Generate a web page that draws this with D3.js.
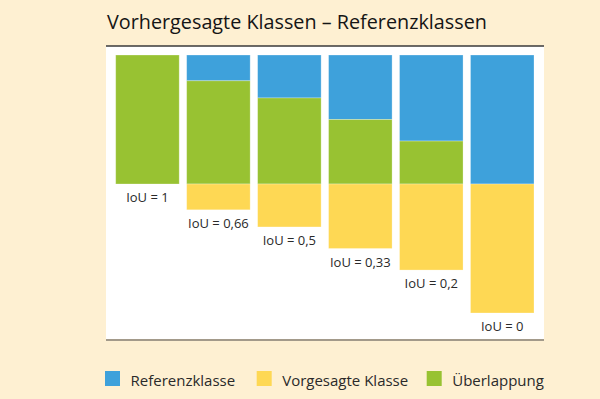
<!DOCTYPE html>
<html>
<head>
<meta charset="utf-8">
<script src="https://cdn.jsdelivr.net/npm/d3@7"></script>
<style>
  html, body { margin: 0; padding: 0; background: #fef0d2; }
  svg { display: block; font-family: "Open Sans", "Noto Sans", sans-serif; }
</style>
</head>
<body>
<div id="app"></div>
<script>
// data (class size = 1)
var labels = ['IoU = 1', 'IoU = 0,66', 'IoU = 0,5', 'IoU = 0,33', 'IoU = 0,2', 'IoU = 0'];
var referenz = [0, 0.2, 0.333, 0.5, 0.667, 1];      // blue, only in reference
var ueberlappung = [1, 0.8, 0.667, 0.5, 0.333, 0];  // green, overlap
var vorhergesagt = [0, 0.2, 0.333, 0.5, 0.667, 1];  // yellow, only predicted

var series = [
    {key: 'referenz', name: 'Referenzklasse', color: '#3ea1db'},
    {key: 'vorhergesagt', name: 'Vorgesagte Klasse', color: '#fed854'},
    {key: 'ueberlappung', name: 'Überlappung', color: '#98c232'}
];
var color = {};
series.forEach(function (s) { color[s.key] = s.color; });

var rows = labels.map(function (l, i) {
    return {label: l, referenz: referenz[i], ueberlappung: ueberlappung[i], vorhergesagt: vorhergesagt[i]};
});

var width = 600, height = 399;
var svg = d3.select('#app').append('svg').attr('width', width).attr('height', height);

// panel
svg.append('rect').attr('x', 106).attr('y', 46).attr('width', 438).attr('height', 294).attr('fill', '#fff');
svg.append('line').attr('x1', 106).attr('x2', 544).attr('y1', 46).attr('y2', 46)
    .attr('stroke', '#3a3a3a').attr('stroke-width', 1.5);
svg.append('line').attr('x1', 106).attr('x2', 544).attr('y1', 340).attr('y2', 340)
    .attr('stroke', '#a39a8a').attr('stroke-width', 2);

svg.append('text').attr('x', 107).attr('y', 28.5)
    .attr('font-size', 19.8).attr('font-weight', 500).attr('fill', '#151515')
    .text('Vorhergesagte Klassen – Referenzklassen');

var x = d3.scaleBand().domain(labels).range([115.7, 534]).paddingInner(0.105);
var y = d3.scaleLinear().domain([0, 2]).range([55, 313]);

var stack = d3.stack().keys(['referenz', 'ueberlappung', 'vorhergesagt']);
var layers = stack(rows);

svg.append('g').selectAll('g').data(layers).enter().append('g')
    .attr('fill', function (d) { return color[d.key]; })
    .selectAll('rect').data(function (d) { return d; }).enter().append('rect')
    .attr('x', function (d) { return x(d.data.label); })
    .attr('width', x.bandwidth())
    .attr('y', function (d) { return y(d[0]); })
    .attr('height', function (d) { return y(d[1]) - y(d[0]); })
    .attr('stroke', '#fff').attr('stroke-opacity', 0.35).attr('stroke-width', 0.8);

// labels under each bar
svg.append('g').selectAll('text').data(rows).enter().append('text')
    .attr('x', function (d) { return x(d.label) + x.bandwidth() / 2; })
    .attr('y', function (d) { return y(d.referenz + d.ueberlappung + d.vorhergesagt) + 18; })
    .attr('text-anchor', 'middle').attr('font-size', 13).attr('fill', '#2a2a2a')
    .text(function (d) { return d.label; });

// legend
var legX = [105, 256.7, 426.7];
var leg = svg.append('g').selectAll('g').data(series).enter().append('g')
    .attr('transform', function (d, i) { return 'translate(' + legX[i] + ',371)'; });
leg.append('rect').attr('width', 15).attr('height', 15).attr('fill', function (d) { return d.color; });
leg.append('text').attr('x', 25.5).attr('y', 14.7).attr('font-size', 15).attr('fill', '#2a2a2a')
    .text(function (d) { return d.name; });
</script>
</body>
</html>
